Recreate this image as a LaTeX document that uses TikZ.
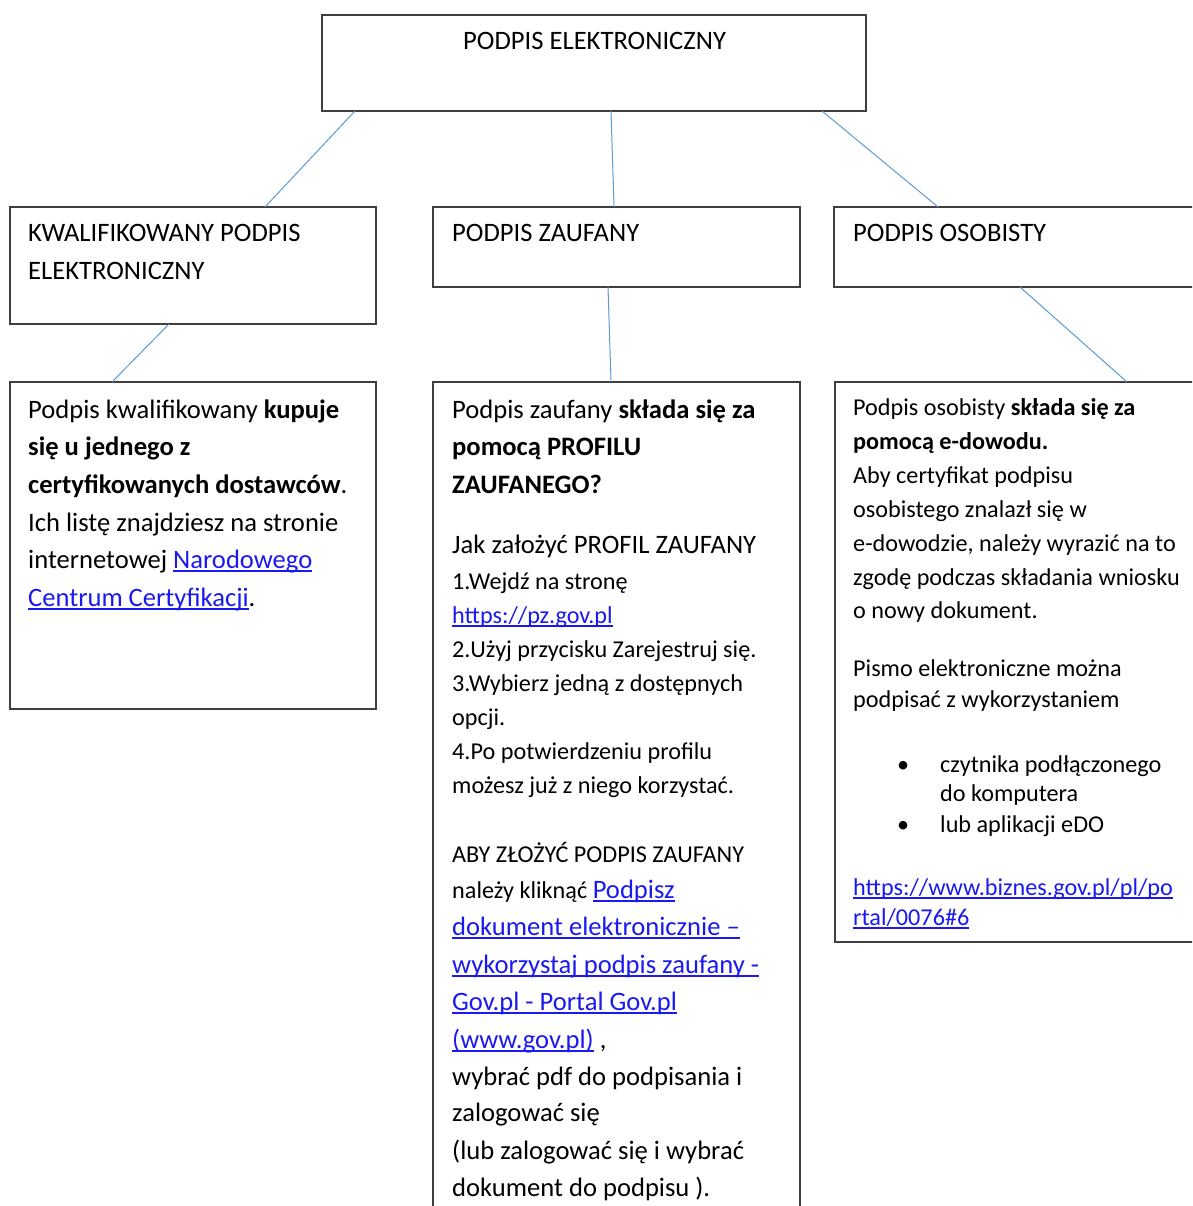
\documentclass[tikz,border=0pt]{standalone}
\usepackage{fontspec}
\setmainfont{Carlito}
\definecolor{boxline}{HTML}{3F3F3F}
\definecolor{connline}{HTML}{5B9BD5}
\definecolor{linkblue}{HTML}{1A1AF0}
\newsavebox{\lnkbox}
\newcommand{\lnk}[1]{{\color{linkblue}\sbox{\lnkbox}{#1}\rlap{\rule[-3.5pt]{\wd\lnkbox}{1.3pt}}\usebox{\lnkbox}}}
\begin{document}
\begin{tikzpicture}[x=1pt,y=-1pt,
  box/.style={draw=boxline, line width=1.4pt, rectangle, inner sep=0pt, outer sep=0pt, anchor=north west},
  conn/.style={draw=connline, line width=1pt},
  big/.style={anchor=base west, inner sep=0pt, font=\fontsize{26.6pt}{32pt}\selectfont},
  small/.style={anchor=base west, inner sep=0pt, font=\fontsize{24.2pt}{29pt}\selectfont}]
\clip (0,0) rectangle (1192,1206);
\fill[white] (0,0) rectangle (1192,1206);
% boxes
\node[box, minimum width=544pt, minimum height=96pt] (top) at (322,15) {};
\node[box, minimum width=366pt, minimum height=117pt] (kpe) at (10,207) {};
\node[box, minimum width=367pt, minimum height=80pt] (pz) at (433,207) {};
\node[box, minimum width=380pt, minimum height=80pt] (po) at (834,207) {};
\node[box, minimum width=366pt, minimum height=327pt] (kpetxt) at (10,382) {};
\node[box, minimum width=367pt, minimum height=850pt] (pztxt) at (433,382) {};
\node[box, minimum width=380pt, minimum height=560pt] (potxt) at (835,382) {};
% connectors
\draw[conn] ([xshift=33pt]top.south west) -- ([xshift=255pt]kpe.north west);
\draw[conn] ([xshift=289pt]top.south west) -- ([xshift=181pt]pz.north west);
\draw[conn] ([xshift=500pt]top.south west) -- ([xshift=104pt]po.north west);
\draw[conn] ([xshift=159pt]kpe.south west) -- ([xshift=102pt]kpetxt.north west);
\draw[conn] ([xshift=175pt]pz.south west) -- ([xshift=178pt]pztxt.north west);
\draw[conn] ([xshift=186pt]po.south west) -- ([xshift=292pt]potxt.north west);
% headings
\node[big] (h0) at (463,50) {PODPIS ELEKTRONICZNY};
\node[big] (h1a) at (28,242) {KWALIFIKOWANY PODPIS};
\node[big] (h1b) at (28,279) {ELEKTRONICZNY};
\node[big] (h2) at (452,242) {PODPIS ZAUFANY};
\node[big] (h3) at (853,242) {PODPIS OSOBISTY};
% left text
\node[big] (l1) at (28,418) {Podpis kwalifikowany \textbf{kupuje}};
\node[big] (l2) at (28,455.6) {\textbf{się u jednego z}};
\node[big] (l3) at (28,493) {\textbf{certyfikowanych dostawców}.};
\node[big] (l4) at (28,531) {Ich listę znajdziesz na stronie};
\node[big] (l5) at (28,568) {internetowej \lnk{Narodowego}};
\node[big] (l6) at (28,606) {\lnk{Centrum Certyfikacji}.};
% middle text
\node[big] (m1) at (452,418) {Podpis zaufany \textbf{składa się za}};
\node[big] (m2) at (452,455.6) {\textbf{pomocą PROFILU}};
\node[big] (m3) at (452,493) {\textbf{ZAUFANEGO?}};
\node[big] (m4) at (452,553) {Jak założyć PROFIL ZAUFANY};
\node[small] (m5) at (452,589) {1.Wejdź na stronę};
\node[small] (m6) at (452,623) {\lnk{https://pz.gov.pl}};
\node[small] (m7) at (452,657) {2.Użyj przycisku Zarejestruj się.};
\node[small] (m8) at (452,691) {3.Wybierz jedną z dostępnych};
\node[small] (m9) at (452,725) {opcji.};
\node[small] (m10) at (452,759) {4.Po potwierdzeniu profilu};
\node[small] (m11) at (452,793) {możesz już z niego korzystać.};
\node[small] (m12) at (452,862) {ABY ZŁOŻYĆ PODPIS ZAUFANY};
\node[small] (m13) at (452,898) {należy kliknąć {\fontsize{26.6pt}{32pt}\selectfont\lnk{Podpisz}}};
\node[big] (m14) at (452,935) {\lnk{dokument elektronicznie –}};
\node[big] (m15) at (452,973) {\lnk{wykorzystaj podpis zaufany -}};
\node[big] (m16) at (452,1010) {\lnk{Gov.pl - Portal Gov.pl}};
\node[big] (m17) at (452,1048) {\lnk{(www.gov.pl)} ,};
\node[big] (m18) at (452,1085) {wybrać pdf do podpisania i};
\node[big] (m19) at (452,1121) {zalogować się};
\node[big] (m20) at (452,1159) {(lub zalogować się i wybrać};
\node[big] (m21) at (452,1196) {dokument do podpisu ).};
% right text
\node[small] (r1) at (853,415) {Podpis osobisty \textbf{składa się za}};
\node[small] (r2) at (853,449) {\textbf{pomocą e-dowodu.}};
\node[small] (r3) at (853,483) {Aby certyfikat podpisu};
\node[small] (r4) at (853,517) {osobistego znalazł się w};
\node[small] (r5) at (853,551) {e-dowodzie, należy wyrazić na to};
\node[small] (r6) at (853,585) {zgodę podczas składania wniosku};
\node[small] (r7) at (853,618) {o nowy dokument.};
\node[small] (r8) at (853,676) {Pismo elektroniczne można};
\node[small] (r9) at (853,707) {podpisać z wykorzystaniem};
\node[small] (b1) at (897,772) {•};
\node[small] (r10) at (940,772) {czytnika podłączonego};
\node[small] (r11) at (940,801) {do komputera};
\node[small] (b2) at (897,832) {•};
\node[small] (r12) at (940,832) {lub aplikacji eDO};
\node[small] (r13) at (853,895) {\lnk{https://www.biznes.gov.pl/pl/po}};
\node[small] (r14) at (853,925) {\lnk{rtal/0076\#6}};
\end{tikzpicture}
\end{document}
